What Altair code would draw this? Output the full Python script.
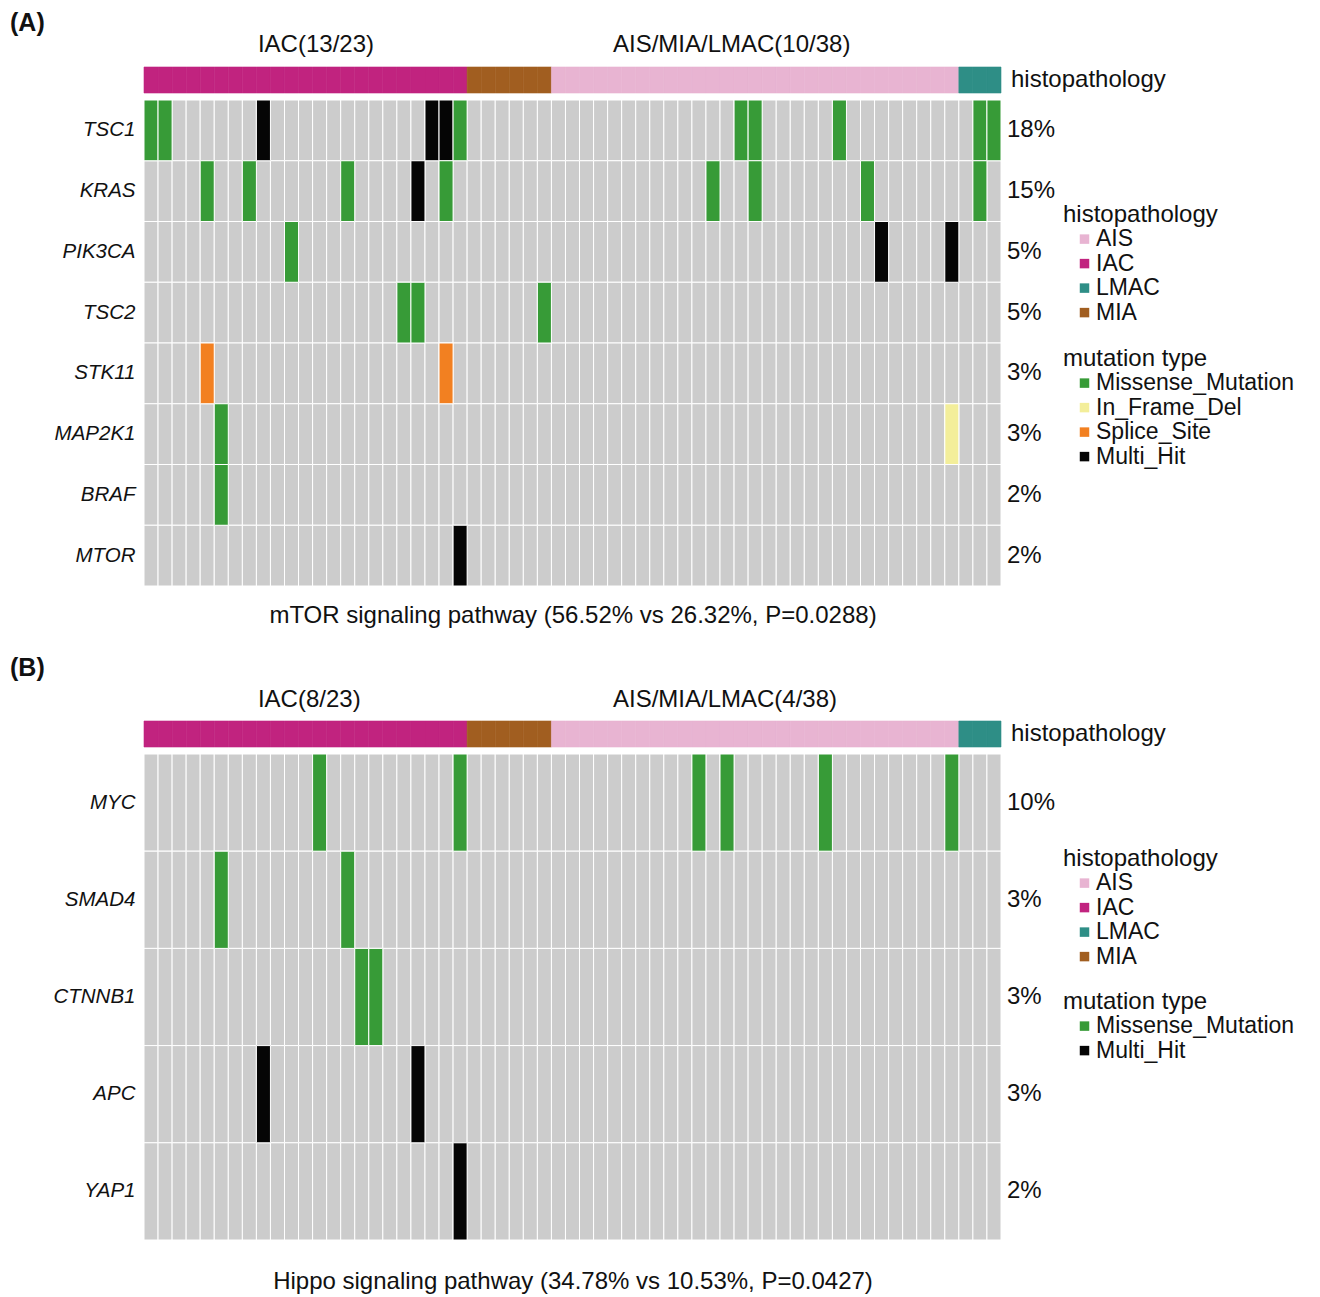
import altair as alt
import pandas as pd

# ---------------- data ----------------
histo_types = ["IAC", "MIA", "AIS", "LMAC"]
histo_counts = [23, 6, 29, 3]
histo_legend = ["AIS", "IAC", "LMAC", "MIA"]
histo_colors = ["#E8B4D2", "#C1237F", "#2E8E86", "#A15E20"]

mtor_groups = ["IAC(13/23)", "AIS/MIA/LMAC(10/38)"]
mtor_caption = "mTOR signaling pathway (56.52% vs 26.32%, P=0.0288)"
mtor_genes = ["TSC1", "KRAS", "PIK3CA", "TSC2", "STK11", "MAP2K1", "BRAF", "MTOR"]
mtor_pct = ["18%", "15%", "5%", "5%", "3%", "3%", "2%", "2%"]
mtor_types = ["Missense_Mutation", "In_Frame_Del", "Splice_Site", "Multi_Hit"]
mtor_type_colors = ["#379B37", "#F3EE9A", "#F28021", "#050505"]
mtor_muts = [
    ("TSC1", 0, "Missense_Mutation"), ("TSC1", 1, "Missense_Mutation"),
    ("TSC1", 8, "Multi_Hit"), ("TSC1", 20, "Multi_Hit"), ("TSC1", 21, "Multi_Hit"),
    ("TSC1", 22, "Missense_Mutation"), ("TSC1", 42, "Missense_Mutation"),
    ("TSC1", 43, "Missense_Mutation"), ("TSC1", 49, "Missense_Mutation"),
    ("TSC1", 59, "Missense_Mutation"), ("TSC1", 60, "Missense_Mutation"),
    ("KRAS", 4, "Missense_Mutation"), ("KRAS", 7, "Missense_Mutation"),
    ("KRAS", 14, "Missense_Mutation"), ("KRAS", 19, "Multi_Hit"),
    ("KRAS", 21, "Missense_Mutation"), ("KRAS", 40, "Missense_Mutation"),
    ("KRAS", 43, "Missense_Mutation"), ("KRAS", 51, "Missense_Mutation"),
    ("KRAS", 59, "Missense_Mutation"),
    ("PIK3CA", 10, "Missense_Mutation"), ("PIK3CA", 52, "Multi_Hit"), ("PIK3CA", 57, "Multi_Hit"),
    ("TSC2", 18, "Missense_Mutation"), ("TSC2", 19, "Missense_Mutation"), ("TSC2", 28, "Missense_Mutation"),
    ("STK11", 4, "Splice_Site"), ("STK11", 21, "Splice_Site"),
    ("MAP2K1", 5, "Missense_Mutation"), ("MAP2K1", 57, "In_Frame_Del"),
    ("BRAF", 5, "Missense_Mutation"),
    ("MTOR", 22, "Multi_Hit"),
]

hippo_groups = ["IAC(8/23)", "AIS/MIA/LMAC(4/38)"]
hippo_caption = "Hippo signaling pathway (34.78% vs 10.53%, P=0.0427)"
hippo_genes = ["MYC", "SMAD4", "CTNNB1", "APC", "YAP1"]
hippo_pct = ["10%", "3%", "3%", "3%", "2%"]
hippo_types = ["Missense_Mutation", "Multi_Hit"]
hippo_type_colors = ["#379B37", "#050505"]
hippo_muts = [
    ("MYC", 12, "Missense_Mutation"), ("MYC", 22, "Missense_Mutation"),
    ("MYC", 39, "Missense_Mutation"), ("MYC", 41, "Missense_Mutation"),
    ("MYC", 48, "Missense_Mutation"), ("MYC", 57, "Missense_Mutation"),
    ("SMAD4", 5, "Missense_Mutation"), ("SMAD4", 14, "Missense_Mutation"),
    ("CTNNB1", 15, "Missense_Mutation"), ("CTNNB1", 16, "Missense_Mutation"),
    ("APC", 8, "Multi_Hit"), ("APC", 19, "Multi_Hit"),
    ("YAP1", 22, "Multi_Hit"),
]

# ---------------- build tables ----------------
sample_hist = []
for t, c in zip(histo_types, histo_counts):
    sample_hist += [t] * c
N = len(sample_hist)
bar_df = pd.DataFrame({"sample": list(range(N)), "s2": list(range(1, N + 1)), "histo": sample_hist})

FONT = "Liberation Sans, Arial, Helvetica, sans-serif"
TXT = "#111111"
W, BAR_H, GRID_H = 857, 26, 486
FS = 24

xs = alt.Scale(domain=[0, N], nice=False, zero=False)

LEG = dict(
    orient="none", legendX=919, padding=0,
    titleFont=FONT, titleFontSize=FS, titleFontWeight="normal", titleColor=TXT,
    titlePadding=1, titleLimit=400,
    labelFont=FONT, labelFontSize=23, labelColor=TXT, labelLimit=400,
    symbolType="square", symbolSize=90, symbolStrokeWidth=0,
    rowPadding=0.5, symbolOffset=10, labelOffset=0,
)


def make_top(tag, tag_dy, groups, head_dy, histo_leg_y, extra):
    h = BAR_H + extra
    ys = alt.Scale(domain=[0, h / BAR_H], nice=False, zero=False)

    def text_at(text, xval, yval, **kw):
        return alt.Chart(pd.DataFrame({"t": [text]})).mark_text(font=FONT, color=TXT, **kw).encode(
            x=alt.X(datum=xval, scale=xs, axis=None),
            y=alt.Y(datum=yval, scale=ys, axis=None),
            text="t:N",
        )

    hscale = alt.Scale(domain=histo_legend, range=histo_colors)
    bar = alt.Chart(bar_df).mark_rect(strokeWidth=0.6).encode(
        x=alt.X("sample:Q", scale=xs, axis=None),
        x2="s2:Q",
        y=alt.Y(datum=0, scale=ys, axis=None),
        y2=alt.Y2(datum=1),
        color=alt.Color("histo:N", scale=hscale,
                        legend=alt.Legend(title="histopathology", legendY=histo_leg_y, **LEG)),
        stroke=alt.Stroke("histo:N", scale=hscale, legend=None),
    )
    return alt.layer(
        bar,
        text_at(tag, 0, 1, align="left", baseline="top", dx=-134, dy=tag_dy,
                fontSize=25, fontWeight="bold"),
        text_at(groups[0], 8.11, 1, align="left", baseline="alphabetic", dy=head_dy, fontSize=FS),
        text_at(groups[1], 33.38, 1, align="left", baseline="alphabetic", dy=head_dy, fontSize=FS),
        text_at("histopathology", N, 0.5, align="left", baseline="middle", dx=10, fontSize=FS),
    ).properties(width=W, height=h)


def make_grid(genes, pcts, muts, types, colors, caption, cap_pad, mut_leg_y):
    gdf = pd.DataFrame([(g, s, s + 1) for g in genes for s in range(N)], columns=["gene", "sample", "s2"])
    mdf = pd.DataFrame([(g, s, s + 1, t) for g, s, t in muts], columns=["gene", "sample", "s2", "type"])
    pdf = pd.DataFrame({"gene": genes, "pct": pcts})

    yax = alt.Axis(title=None, ticks=False, domain=False, grid=False, labelFont=FONT,
                   labelFontStyle="italic", labelFontSize=20.5, labelColor=TXT, labelPadding=9)
    bg = alt.Chart(gdf).mark_rect(color="#CCCCCC", stroke="white", strokeWidth=1).encode(
        x=alt.X("sample:Q", scale=xs,
                axis=alt.Axis(title=caption, labels=False, ticks=False, domain=False, grid=False,
                              titlePadding=cap_pad, titleFont=FONT, titleFontSize=FS,
                              titleFontWeight="normal", titleColor=TXT)),
        x2="s2:Q",
        y=alt.Y("gene:N", sort=genes, scale=alt.Scale(paddingInner=0, paddingOuter=0), axis=yax),
    )
    mut = alt.Chart(mdf).mark_rect(stroke="white", strokeWidth=1).encode(
        x=alt.X("sample:Q", scale=xs),
        x2="s2:Q",
        y=alt.Y("gene:N", sort=genes),
        color=alt.Color("type:N", scale=alt.Scale(domain=types, range=colors),
                        legend=alt.Legend(title="mutation type", legendY=mut_leg_y, **LEG)),
    )
    pct = alt.Chart(pdf).mark_text(align="left", baseline="middle", dx=6, fontSize=FS,
                                   font=FONT, color=TXT).encode(
        x=alt.X(datum=N, scale=xs),
        y=alt.Y("gene:N", sort=genes),
        text="pct:N",
    )
    return alt.layer(bg, mut, pct).properties(width=W, height=GRID_H)


topA = make_top("(A)", -55.75, mtor_groups, -15, 135.6, 0)
gridA = make_grid(mtor_genes, mtor_pct, mtor_muts, mtor_types, mtor_type_colors,
                  mtor_caption, 17, 246.6)
topB = make_top("(B)", -64.75, hippo_groups, -14.5, 253.6, 128)
gridB = make_grid(hippo_genes, hippo_pct, hippo_muts, hippo_types, hippo_type_colors,
                  hippo_caption, 29.5, 235.6)

chart = alt.vconcat(topA, gridA, topB, gridB, spacing=7, bounds="flush").resolve_scale(
    color="independent", stroke="independent"
).configure_view(stroke=None).properties(
    padding={"left": 2, "top": 3, "right": 5, "bottom": 5}
)

chart.save("out.html", embed_options={"renderer": "svg", "actions": False})
